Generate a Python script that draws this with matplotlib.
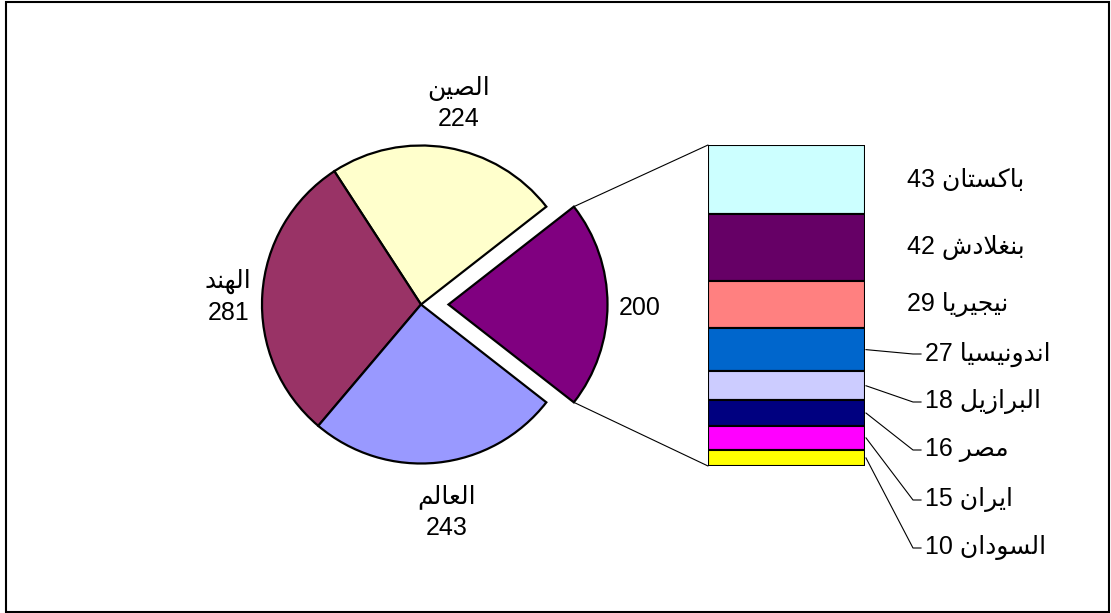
import numpy as np
import matplotlib
matplotlib.use("Agg")
import matplotlib.pyplot as plt
from matplotlib.patches import Rectangle, ConnectionPatch

# ---------------- data ----------------
pie_names = ["الصين", "الهند", "العالم"]
pie_values = [224, 281, 243]
bar_names = ["باكستان", "بنغلادش", "نيجيريا", "اندونيسيا", "البرازيل", "مصر", "ايران", "السودان"]
bar_values = [43, 42, 29, 27, 18, 16, 15, 10]

pie_colors = ["#800080", "#FFFFCC", "#993366", "#9999FF"]
bar_colors = ["#CCFFFF", "#660066", "#FF8080", "#0066CC", "#CCCCFF", "#000080", "#FF00FF", "#FFFF00"]

# ---------------- minimal Arabic shaping (logical -> visual presentation forms) ----------------
FORMS = {
    'ا': ('\uFE8D', '\uFE8E', None, None),
    'ب': ('\uFE8F', '\uFE90', '\uFE91', '\uFE92'),
    'ت': ('\uFE95', '\uFE96', '\uFE97', '\uFE98'),
    'ج': ('\uFE9D', '\uFE9E', '\uFE9F', '\uFEA0'),
    'د': ('\uFEA9', '\uFEAA', None, None),
    'ر': ('\uFEAD', '\uFEAE', None, None),
    'ز': ('\uFEAF', '\uFEB0', None, None),
    'س': ('\uFEB1', '\uFEB2', '\uFEB3', '\uFEB4'),
    'ش': ('\uFEB5', '\uFEB6', '\uFEB7', '\uFEB8'),
    'ص': ('\uFEB9', '\uFEBA', '\uFEBB', '\uFEBC'),
    'ع': ('\uFEC9', '\uFECA', '\uFECB', '\uFECC'),
    'غ': ('\uFECD', '\uFECE', '\uFECF', '\uFED0'),
    'ك': ('\uFED9', '\uFEDA', '\uFEDB', '\uFEDC'),
    'ل': ('\uFEDD', '\uFEDE', '\uFEDF', '\uFEE0'),
    'م': ('\uFEE1', '\uFEE2', '\uFEE3', '\uFEE4'),
    'ن': ('\uFEE5', '\uFEE6', '\uFEE7', '\uFEE8'),
    'ه': ('\uFEE9', '\uFEEA', '\uFEEB', '\uFEEC'),
    'و': ('\uFEED', '\uFEEE', None, None),
    'ي': ('\uFEF1', '\uFEF2', '\uFEF3', '\uFEF4'),
}


def shape(word):
    ch = list(word)
    out = []
    i = 0
    while i < len(ch):
        c = ch[i]
        prev = ch[i - 1] if i > 0 else None
        jp = prev in FORMS and FORMS[prev][2] is not None
        if c == 'ل' and i + 1 < len(ch) and ch[i + 1] == 'ا':
            out.append('\uFEFC' if jp else '\uFEFB')
            i += 2
            continue
        if c not in FORMS:
            out.append(c)
            i += 1
            continue
        nxt = ch[i + 1] if i + 1 < len(ch) else None
        jn = FORMS[c][2] is not None and nxt in FORMS
        iso, fin, ini, med = FORMS[c]
        if jp and jn:
            out.append(med)
        elif jp:
            out.append(fin)
        elif jn:
            out.append(ini)
        else:
            out.append(iso)
        i += 1
    return ''.join(reversed(out))


# ---------------- figure ----------------
W, H = 1111, 613
plt.rcParams['font.family'] = ['Liberation Sans', 'DejaVu Sans']
FS = 18
fig = plt.figure(figsize=(W / 100, H / 100), dpi=100)
ax = fig.add_axes([0, 0, 1, 1])


def P(x, y):  # pixel (y down) -> main axes data (y up)
    return x, H - y


others = sum(bar_values)
vals = [others] + pie_values
total = sum(vals)
start = -others / total * 180.0
cx, cy = P(421, 304.5)
R = 159
explode = [27.5, 0, 0, 0]  # pixel offset of the "other" slice
wedges, _ = ax.pie(vals, colors=pie_colors, startangle=start, counterclock=True,
                   radius=R, center=(cx, cy), explode=explode,
                   wedgeprops=dict(edgecolor='black', linewidth=1.6))
ax.set_xlim(0, W)
ax.set_ylim(0, H)
ax.set_aspect('auto')
ax.axis('off')

# pie labels (value + name)
label_geom = [(191.5, -0.9), (189, -2.0), (193, 6.1), (225, 0.6)]  # (distance, angle nudge)
for k, w in enumerate(wedges):
    mid = np.deg2rad((w.theta1 + w.theta2) / 2 + label_geom[k][1])
    wx, wy = w.center
    d = label_geom[k][0]
    tx, ty = wx + d * np.cos(mid), wy + d * np.sin(mid)
    ax.text(tx, ty, str(vals[k]), ha='center', va='center', fontsize=FS)
    if k > 0:
        ax.text(tx, ty + 31, shape(pie_names[k - 1]), ha='center', va='center', fontsize=FS)

# bar axes
bx0, by0 = 708, 145
bx1, by1 = 865, 466
ax2 = fig.add_axes([bx0 / W, (H - by1) / H, (bx1 - bx0) / W, (by1 - by0) / H])
bottoms = np.concatenate([[0], np.cumsum(bar_values)[:-1]])
ax2.bar([0] * len(bar_values), bar_values, bottom=bottoms, width=1.0, color=bar_colors,
        edgecolor='black', linewidth=1.5)
ax2.set_xlim(-0.5, 0.5)
ax2.set_ylim(others, 0)
ax2.axis('off')

# connector lines from exploded wedge to bar
w0 = wedges[0]
for ang, yb in [(w0.theta2, 0), (w0.theta1, others)]:
    a = np.deg2rad(ang)
    px = w0.center[0] + w0.r * np.cos(a)
    py = w0.center[1] + w0.r * np.sin(a)
    con = ConnectionPatch(xyA=(px, py), coordsA=ax.transData, xyB=(-0.5, yb), coordsB=ax2.transData,
                          color='black', linewidth=0.8)
    fig.add_artist(con)

# bar labels
inv = ax.transData.inverted()
leader_y = [354, 402, 450, 500, 548]
for k, (nm, v) in enumerate(zip(bar_names, bar_values)):
    mid = bottoms[k] + v / 2
    label = f"{v} {shape(nm)}"
    sx, sy = inv.transform(ax2.transData.transform((0.5, mid)))
    if k < 3:
        ax.text(907, sy, label, ha='left', va='center', fontsize=FS)
    else:
        ly = H - leader_y[k - 3]
        ax.plot([sx + 1, 913, 921], [sy, ly, ly], color='black', linewidth=0.8)
        ax.text(925, ly, label, ha='left', va='center', fontsize=FS)

# outer border
fig.add_artist(Rectangle((6 / W, 1.5 / H), (1109 - 6) / W, (611 - 1.5) / H, transform=fig.transFigure,
                         fill=False, edgecolor='black', linewidth=1.5))

fig.savefig("out.png", dpi=100)
